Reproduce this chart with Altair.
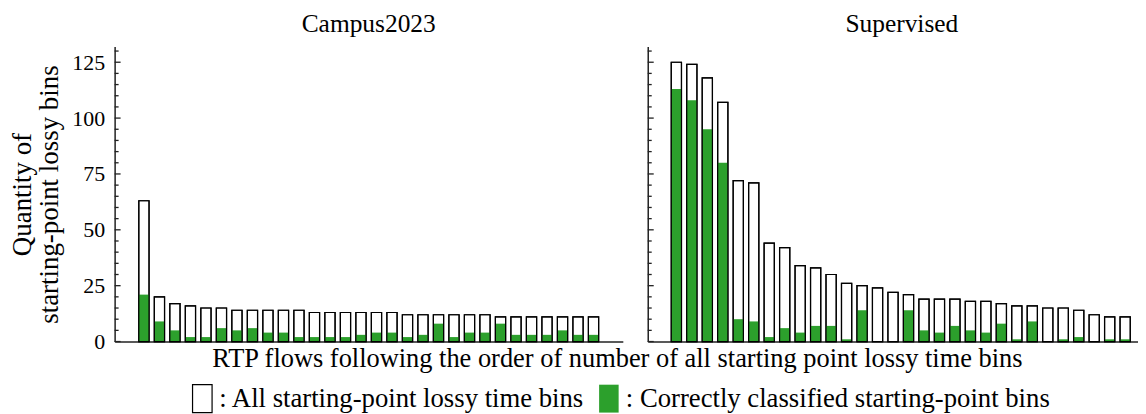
import altair as alt
import pandas as pd

FONT = "Liberation Serif"
GREEN = "#2ca02c"
INK = "#222222"

flows = list(range(1, 31))
campus_all = [63, 20, 17, 16, 15, 15, 14, 14, 14, 14, 14, 13, 13, 13, 13,
              13, 13, 12, 12, 12, 12, 12, 12, 11, 11, 11, 11, 11, 11, 11]
campus_correct = [21, 9, 5, 2, 2, 6, 5, 6, 4, 4, 2, 2, 2, 2, 3,
                  4, 4, 2, 3, 8, 2, 4, 4, 8, 3, 3, 3, 5, 3, 3]
sup_all = [125, 124, 118, 107, 72, 71, 44, 42, 34, 33, 30, 26, 25, 24, 22,
           21, 19, 19, 19, 18, 18, 17, 16, 16, 15, 15, 14, 12, 11, 11]
sup_correct = [113, 108, 95, 80, 10, 9, 2, 6, 4, 7, 7, 1, 14, 0, 0,
               14, 5, 4, 7, 5, 4, 8, 1, 9, 0, 1, 2, 0, 1, 1]

major_ticks = [0, 25, 50, 75, 100, 125]
minor_ticks = [5, 10, 15, 20, 30, 35, 40, 45, 55, 60, 65, 70, 80, 85, 90, 95,
               105, 110, 115, 120, 130]

LAB_ALL = ": All starting-point lossy time bins"
LAB_COR = ": Correctly classified starting-point bins"
XTITLE = "RTP flows following the order of number of all starting point lossy time bins"
YTITLE = ["Quantity of", "starting-point lossy bins"]

HALF = 0.33  # half bar width in flow units
yscale = alt.Scale(domain=[0, 132], nice=False)

legend = alt.Legend(
    orient="none", legendX=73, legendY=338, direction="horizontal", title=None,
    symbolType="M-0.7,-1H0.7V1H-0.7Z", symbolSize=784, symbolStrokeWidth=1.2,
    labelFont=FONT, labelFontSize=26.8, labelColor="black", labelOffset=2,
    columnPadding=9, padding=0, labelLimit=600,
)


def panel(name, tot, cor, width, xdomain, first, title_dx):
    df = pd.DataFrame({
        "flow": flows + flows,
        "value": tot + cor,
        "kind": [LAB_ALL] * len(tot) + [LAB_COR] * len(cor),
    })
    outline = pd.DataFrame({"flow": flows, "value": tot})
    xscale = alt.Scale(domain=xdomain, nice=False, zero=False)
    if first:
        xaxis = alt.Axis(labels=False, ticks=False, grid=False, title=XTITLE,
                         titleX=504, titlePadding=4, titleFontSize=26.5,
                         titleFont=FONT, titleFontWeight="normal", titleColor="black")
        yaxis = alt.Axis(values=major_ticks, ticks=False, grid=False, labelPadding=10,
                         labelFontSize=22, labelFont=FONT, labelColor="black",
                         title=YTITLE, titleFontSize=27, titleLineHeight=27, titleFont=FONT,
                         titleFontWeight="normal", titleColor="black", titlePadding=8)
    else:
        xaxis = alt.Axis(labels=False, ticks=False, grid=False, title=None)
        yaxis = alt.Axis(labels=False, ticks=False, grid=False, title=None)

    base = alt.Chart(df).transform_calculate(
        x0=f"datum.flow - {HALF}", x1=f"datum.flow + {HALF}"
    )
    bars = base.mark_bar(strokeWidth=1.2).encode(
        x=alt.X("x0:Q", scale=xscale, axis=xaxis),
        x2="x1:Q",
        y=alt.Y("value:Q", scale=yscale, axis=yaxis, stack=None),
        y2=alt.datum(0),
        fill=alt.Fill("kind:N", scale=alt.Scale(domain=[LAB_ALL, LAB_COR], range=["white", GREEN]),
                      legend=legend),
        stroke=alt.Stroke("kind:N", scale=alt.Scale(domain=[LAB_ALL, LAB_COR], range=["black", "transparent"]),
                          legend=legend),
    )
    frame = alt.Chart(outline).transform_calculate(
        x0=f"datum.flow - {HALF}", x1=f"datum.flow + {HALF}"
    ).mark_bar(fillOpacity=0, stroke="black", strokeWidth=1.2).encode(
        x=alt.X("x0:Q"), x2="x1:Q",
        y=alt.Y("value:Q"), y2=alt.datum(0),
    )
    major = alt.Chart(pd.DataFrame({"value": major_ticks})).mark_rule(color=INK, strokeWidth=1.3).encode(
        y=alt.Y("value:Q"), x=alt.value(0), x2=alt.value(6)
    )
    minor = alt.Chart(pd.DataFrame({"value": minor_ticks})).mark_rule(color=INK, strokeWidth=1.3).encode(
        y=alt.Y("value:Q"), x=alt.value(0), x2=alt.value(4)
    )
    return alt.layer(bars, frame, major, minor).properties(
        width=width, height=296,
        title=alt.TitleParams(name, font=FONT, fontSize=25.5, fontWeight="normal", color="black",
                              offset=9, anchor="middle", dx=title_dx),
    )


p1 = panel("Campus2023", campus_all, campus_correct, 510, [-0.89, 31.89], True, 0)
p2 = panel("Supervised", sup_all, sup_correct, 492, [-0.85, 30.83], False, 9)

chart = alt.hconcat(p1, p2, spacing=25, bounds="flush").properties(
    padding={"left": 0, "top": 3, "right": 0, "bottom": 0}
).configure_view(stroke=None).configure_axis(
    domainColor=INK, domainWidth=1.5
)

chart.save("out.html", embed_options={"renderer": "svg", "actions": False})
